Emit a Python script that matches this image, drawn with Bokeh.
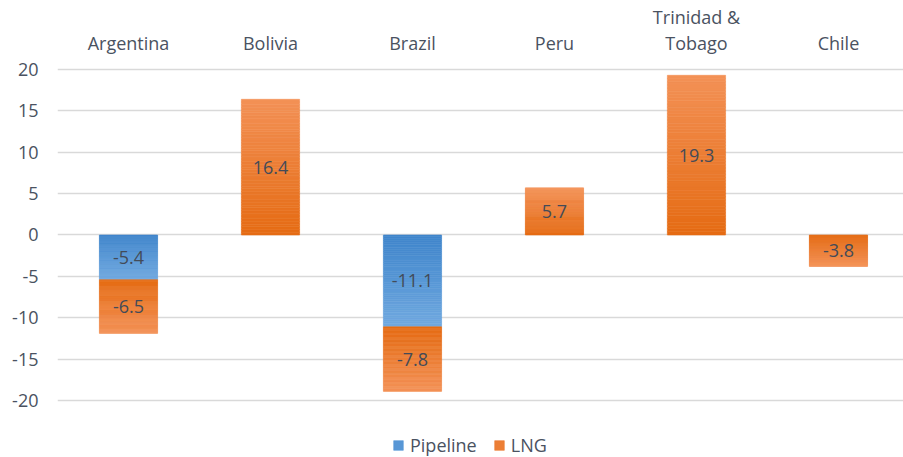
from bokeh.plotting import figure
from bokeh.models import (ColumnDataSource, Range1d, FixedTicker, Legend, LegendItem,
                          LinearAxis)
from bokeh.core.properties import value
from bokeh.embed import file_html
from bokeh.resources import INLINE

# ---- data ----
countries = ["Argentina", "Bolivia", "Brazil", "Peru", "Trinidad &\nTobago", "Chile"]
pipeline = [-5.4, 0.0, -11.1, 0.0, 0.0, 0.0]
lng = [-6.5, 16.4, -7.8, 5.7, 19.3, -3.8]
y_ticks = [-20, -15, -10, -5, 0, 5, 10, 15, 20]

FONT = "Open Sans"
FS = "18px"
TXT = "#4a5261"
BLUE_DARK, BLUE_LIGHT = (0x3f, 0x85, 0xcb), (0x70, 0xa9, 0xe0)
ORG_DARK, ORG_LIGHT = (0xe5, 0x6b, 0x13), (0xf3, 0x91, 0x56)
BAR_W = 0.41
N_SLICES = 50

def hexc(c):
    return "#%02x%02x%02x" % tuple(int(round(v)) for v in c)

def mix(a, b, t):
    return tuple(a[i] + (b[i] - a[i]) * t for i in range(3))

p = figure(width=903, height=457, output_backend="svg", toolbar_location=None,
           x_range=Range1d(0, 5.958), y_range=Range1d(-26.89, 28.34),
           min_border=0, min_border_left=57,
           x_axis_location=None, y_axis_location=None)
p.outline_line_color = None
p.background_fill_color = "white"
p.border_fill_color = "white"

# gradient bars built from the data (slices colored dark near zero, light away)
def segments(starts, ends, dark, light):
    d = dict(x=[], bottom=[], top=[], color=[])
    for i, (s, e) in enumerate(zip(starts, ends)):
        if s == e:
            continue
        for k in range(N_SLICES):
            a = s + (e - s) * k / N_SLICES
            b = s + (e - s) * (k + 1) / N_SLICES
            d["x"].append(i + 0.5)
            d["bottom"].append(min(a, b))
            d["top"].append(max(a, b))
            d["color"].append(hexc(mix(dark, light, (k + 0.5) / N_SLICES)))
    return d

lng_start = pipeline
lng_end = [pipeline[i] + lng[i] for i in range(len(lng))]
src_pipe = ColumnDataSource(segments([0.0] * len(pipeline), pipeline, BLUE_DARK, BLUE_LIGHT))
src_lng = ColumnDataSource(segments(lng_start, lng_end, ORG_DARK, ORG_LIGHT))

# grid
p.xgrid.visible = False
p.ygrid.ticker = FixedTicker(ticks=y_ticks)
p.ygrid.grid_line_color = "#d9d9d9"
p.ygrid.grid_line_width = 1.3

r_pipe = p.vbar(x="x", bottom="bottom", top="top", width=BAR_W, fill_color="color",
                line_color="color", line_width=0.6, source=src_pipe)
r_lng = p.vbar(x="x", bottom="bottom", top="top", width=BAR_W, fill_color="color",
               line_color="color", line_width=0.6, source=src_lng)

# data labels
lab_x, lab_y, lab_t = [], [], []
for i in range(len(countries)):
    if pipeline[i] != 0:
        lab_x.append(i + 0.5); lab_y.append(pipeline[i] / 2); lab_t.append("%.1f" % pipeline[i])
    lab_x.append(i + 0.5); lab_y.append(pipeline[i] + lng[i] / 2); lab_t.append("%.1f" % lng[i])
p.text(x=lab_x, y=lab_y, text=lab_t, text_font=value(FONT), text_font_size=FS,
       text_color="#434b58", text_align="center", text_baseline="middle")

# category labels above the top gridline
cat_x = [i + 0.5 for i in range(len(countries))]
p.text(x=cat_x, y=[max(y_ticks)] * len(countries), text=countries,
       text_font=value(FONT), text_font_size=FS, text_color=TXT,
       text_align="center", text_baseline="bottom", text_line_height=1.06,
       y_offset=-15)

# y axis
ya = LinearAxis(ticker=FixedTicker(ticks=y_ticks))
ya.major_label_overrides = {t: str(t) for t in y_ticks}
ya.axis_line_color = None
ya.major_tick_line_color = None
ya.minor_tick_line_color = None
ya.major_tick_out = 0
ya.major_tick_in = 0
ya.major_label_standoff = 19
ya.major_label_text_font = FONT
ya.major_label_text_font_size = FS
ya.major_label_text_color = TXT
p.add_layout(ya, "left")

# legend: swatch taken from the middle slice of each series
mid = N_SLICES // 2
legend = Legend(items=[LegendItem(label="Pipeline", renderers=[r_pipe], index=mid),
                       LegendItem(label="LNG", renderers=[r_lng], index=mid)],
                orientation="horizontal", location=(335, 0))
legend.padding = 0
legend.margin = 0
legend.spacing = 16
legend.glyph_width = 12
legend.glyph_height = 12
legend.label_standoff = 6
legend.label_height = 22
legend.label_text_font = FONT
legend.label_text_font_size = FS
legend.label_text_color = TXT
legend.border_line_color = None
legend.background_fill_alpha = 0
p.add_layout(legend, "center")

open("out.html", "w").write(file_html(p, INLINE))
